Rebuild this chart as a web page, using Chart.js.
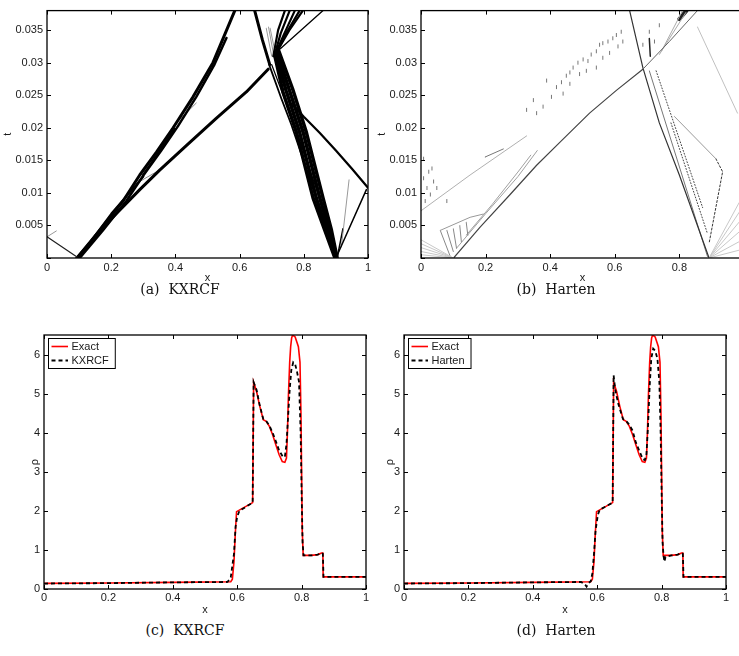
<!DOCTYPE html>
<html>
<head>
<meta charset="utf-8">
<script src="https://cdn.jsdelivr.net/npm/chart.js@4.4.1/dist/chart.umd.min.js"></script>
<style>
html, body { margin: 0; padding: 0; background: #fff; overflow: hidden; width: 739px; height: 656px; }
canvas { position: absolute; }
.cap { position: absolute; font-family: "DejaVu Serif", serif; font-size: 14px; color: #111; white-space: pre; transform: translateX(-50%); }
</style>
</head>
<body>
<canvas id="pa" width="380" height="285" style="left:0;top:0"></canvas>
<canvas id="pb" width="380" height="285" style="left:370px;top:0"></canvas>
<canvas id="pc" width="380" height="300" style="left:0;top:320px"></canvas>
<canvas id="pd" width="380" height="300" style="left:370px;top:320px"></canvas>
<div class="cap" style="left:180px;top:281px">(a)  KXRCF</div>
<div class="cap" style="left:556px;top:281px">(b)  Harten</div>
<div class="cap" style="left:185px;top:622px">(c)  KXRCF</div>
<div class="cap" style="left:556px;top:622px">(d)  Harten</div>
<script>
// ---- density at t = 0.038 (bottom panels) ----
const exactX = [0, 0.2, 0.4, 0.58, 0.585, 0.59, 0.594, 0.598, 0.648, 0.651, 0.66, 0.67, 0.681, 0.69, 0.70, 0.71, 0.72, 0.73, 0.74, 0.748,
  0.753, 0.756, 0.759, 0.763, 0.766, 0.769, 0.772, 0.78, 0.786, 0.79, 0.795, 0.798, 0.80, 0.802, 0.805, 0.83, 0.85, 0.862, 0.866, 0.867, 1.0];
const exactRho = [0.145, 0.155, 0.17, 0.185, 0.25, 0.7, 1.4, 1.98, 2.21, 5.29, 5.06, 4.68, 4.33, 4.29, 4.16, 3.95, 3.69, 3.44, 3.26, 3.24,
  3.35, 4.0, 4.93, 5.8, 6.2, 6.42, 6.5, 6.45, 6.3, 6.2, 5.8, 4.5, 3.0, 1.5, 0.86, 0.86, 0.88, 0.92, 0.92, 0.31, 0.31];

const kxrcfX = [0, 0.2, 0.4, 0.57, 0.58, 0.59, 0.595, 0.60, 0.607, 0.648, 0.651, 0.66, 0.67, 0.681, 0.69, 0.70, 0.71, 0.72, 0.73, 0.742,
  0.748, 0.753, 0.758, 0.763, 0.768, 0.774, 0.78, 0.786, 0.792, 0.797, 0.80, 0.803, 0.806, 0.83, 0.85, 0.862, 0.866, 0.868, 1.0];
const kxrcfRho = [0.14, 0.15, 0.17, 0.18, 0.3, 0.9, 1.6, 1.85, 2.0, 2.21, 5.29, 5.1, 4.7, 4.35, 4.3, 4.18, 4.0, 3.78, 3.55, 3.38,
  3.38, 3.7, 4.4, 5.1, 5.6, 5.8, 5.75, 5.55, 5.3, 4.0, 2.5, 1.2, 0.86, 0.86, 0.88, 0.92, 0.9, 0.31, 0.31];

const hartenX = [0, 0.2, 0.4, 0.55, 0.562, 0.567, 0.573, 0.58, 0.585, 0.59, 0.595, 0.602, 0.608, 0.648, 0.651, 0.656, 0.665, 0.68, 0.69, 0.70,
  0.71, 0.72, 0.73, 0.742, 0.748, 0.753, 0.758, 0.763, 0.768, 0.774, 0.78, 0.787, 0.793, 0.797, 0.80, 0.803, 0.806, 0.809, 0.812, 0.83,
  0.85, 0.862, 0.866, 0.868, 1.0];
const hartenRho = [0.14, 0.15, 0.17, 0.18, 0.12, 0.06, 0.15, 0.2, 0.4, 0.9, 1.5, 1.9, 2.03, 2.21, 5.47, 5.1, 4.75, 4.35, 4.3, 4.2,
  4.05, 3.75, 3.55, 3.32, 3.3, 3.45, 4.2, 5.2, 5.9, 6.15, 6.1, 5.9, 5.3, 4.0, 2.5, 1.2, 0.85, 0.7, 0.82, 0.86,
  0.88, 0.92, 0.9, 0.31, 0.31];

// ---- troubled cells in the (x, t) plane, KXRCF (panel a) ----
const kxL1 = [[0.0935, 0], [0.164, 0.00425], [0.237, 0.00875], [0.289, 0.01275], [0.341, 0.01625], [0.393, 0.02], [0.455, 0.02475], [0.517, 0.03], [0.585, 0.038]];
const kxL2 = [[0.102, 0], [0.174, 0.00425], [0.247, 0.00875], [0.301, 0.01275], [0.356, 0.0165], [0.408, 0.02025], [0.465, 0.02475], [0.522, 0.02975], [0.559, 0.0338]];
const kxL4 = [[0.097, 0], [0.2, 0.0068], [0.3, 0.0125]];
const kxB1 = [[0.299, 0.01275], [0.398, 0.01985]];
const kxG1 = [[0.413, 0.02125], [0.465, 0.0238]];
const kxG2 = [[0.28, 0.0115], [0.35, 0.0135]];
const kxL3 = [[0.0935, 0], [0.195, 0.00575], [0.289, 0.0105], [0.351, 0.0135], [0.434, 0.01725], [0.528, 0.0215], [0.621, 0.0255], [0.689, 0.029]];
const kxWall = [[0, 0.00325], [0.0935, 0.00015]];
const kxWallG = [[0, 0.00325], [0.029, 0.00415]];
const kxIn = [[0.647, 0.038], [0.671, 0.0335], [0.694, 0.0297]];
const kxThin1 = [[0.692, 0.0297], [0.73, 0.0245], [0.761, 0.0205], [0.83, 0.0105], [0.898, 0.0003]];
const kxThin2 = [[0.70, 0.0297], [0.77, 0.0205], [0.84, 0.0105], [0.9, 0.0003]];
const kxBand = [
  [[0.71, 0.031], [0.735, 0.0255], [0.777, 0.0193], [0.829, 0.0092], [0.865, 0.0043], [0.897, 0]],
  [[0.713, 0.0313], [0.745, 0.0257], [0.787, 0.0193], [0.839, 0.0092], [0.872, 0.0043], [0.899, 0]],
  [[0.717, 0.0315], [0.755, 0.0258], [0.798, 0.0193], [0.850, 0.0092], [0.879, 0.0043], [0.901, 0]],
  [[0.722, 0.0318], [0.765, 0.026], [0.808, 0.0193], [0.860, 0.0092], [0.886, 0.0043], [0.904, 0]]
];
const kxFan = [
  [[0.705, 0.031], [0.72, 0.035], [0.741, 0.038]],
  [[0.708, 0.031], [0.728, 0.0345], [0.756, 0.038]],
  [[0.71, 0.0312], [0.735, 0.034], [0.772, 0.038]],
  [[0.712, 0.0313], [0.745, 0.0345], [0.787, 0.038]],
  [[0.714, 0.0315], [0.755, 0.035], [0.797, 0.038]]
];
const kxFanThin = [[0.712, 0.0315], [0.86, 0.038]];
const kxDiamond = [
  [[0.683, 0.0353], [0.70, 0.031]],
  [[0.69, 0.0355], [0.705, 0.0315]],
  [[0.695, 0.0353], [0.709, 0.032]]
];
const kxRefl = [[1.0, 0.0108], [0.95, 0.0137], [0.90, 0.0165], [0.85, 0.0192], [0.80, 0.0217], [0.766, 0.0235]];
const kxRightUp = [[0.903, 0.0003], [0.995, 0.0105]];
const kxSpike = [[0.917, 0.0017], [0.941, 0.012]];
const kxSpike2 = [[0.905, 0.0003], [0.922, 0.0045]];

// ---- troubled cells, Harten (panel b) ----
const hShock = [[0.101, 0], [0.183, 0.00475], [0.276, 0.00975], [0.358, 0.01425], [0.44, 0.01825], [0.522, 0.02225], [0.605, 0.02575], [0.687, 0.029]];
const hShockUp = [[0.687, 0.029], [0.769, 0.03325], [0.856, 0.038]];
const hLeftMove = [[0.646, 0.038], [0.687, 0.02925], [0.738, 0.02075], [0.80, 0.01275], [0.892, 0]];
const hRight2 = [[0.707, 0.02875], [0.887, 0.00025]];
const hDot1 = [[0.728, 0.02875], [0.872, 0.00775]];
const hDot2 = [[0.774, 0.02075], [0.887, 0.00375]];
const hRefl = [[0.7845, 0.02175], [0.913, 0.01525]];
const hDash = [[0.913, 0.01525], [0.934, 0.01325], [0.892, 0.00225]];
const hReflUp = [[0.856, 0.0355], [0.98, 0.02225]];
const hFanRightEnds = [0.0085, 0.007, 0.0055, 0.004, 0.0025, 0.0012];
const hFanLeftStarts = [0.0028, 0.0022, 0.0016, 0.001, 0.0005];
const hDiag = [[0, 0.00725], [0.152, 0.01275], [0.327, 0.01875]];
const hDiagDash = [[0.198, 0.0155], [0.255, 0.01675]];
const hBlockTop = [[0.06, 0.00425], [0.152, 0.00625], [0.193, 0.00675]];
const hBlockLines = [
  [[0.0596, 0.00425], [0.0905, 0.00025]],
  [[0.08, 0.00425], [0.1, 0.001]],
  [[0.1, 0.0045], [0.11, 0.0015]],
  [[0.12, 0.005], [0.125, 0.0025]],
  [[0.14, 0.0055], [0.145, 0.0035]]
];
const hBundle = [
  [[0.11, 0.0015], [0.2, 0.0068], [0.3, 0.0125], [0.36, 0.0165]],
  [[0.14, 0.0035], [0.22, 0.0082], [0.30, 0.0132], [0.34, 0.0158]]
];
const hBlob = [[0.80, 0.0367], [0.822, 0.038]];
const hBlobLines = [
  [[0.738, 0.03125], [0.82, 0.0377]],
  [[0.745, 0.0318], [0.81, 0.038]]
];
const hVert = [[0.707, 0.0337], [0.71, 0.031]];
const hDotsX = [0.4195, 0.435, 0.450, 0.461, 0.471, 0.486, 0.502, 0.517, 0.527, 0.543, 0.553, 0.563, 0.579, 0.594, 0.605, 0.620, 0.625,
  0.563, 0.584, 0.610, 0.543, 0.512, 0.491, 0.461, 0.440, 0.404, 0.358, 0.378, 0.327, 0.348, 0.389, 0.687, 0.707, 0.738, 0.723,
  0.008, 0.0185, 0.029, 0.013, 0.024, 0.039, 0.049, 0.008, 0.034, 0.08];
const hDotsT = [0.02625, 0.027, 0.028, 0.0285, 0.02925, 0.03, 0.0305, 0.03025, 0.03125, 0.03175, 0.03275, 0.033, 0.03325, 0.03375, 0.03425, 0.03475, 0.03325,
  0.03075, 0.0315, 0.0325, 0.02925, 0.02875, 0.02825, 0.02675, 0.02525, 0.02475, 0.02225, 0.02325, 0.02275, 0.02425, 0.02725, 0.03275, 0.03475, 0.03575, 0.03325,
  0.01225, 0.01075, 0.00975, 0.00875, 0.01325, 0.01175, 0.01075, 0.01525, 0.01375, 0.00875];

const FONT = { family: '"Liberation Sans", Arial, Helvetica, sans-serif', size: 11 };
const INK = '#1a1a1a';

function seg(pts, color, width, dash) {
  return {
    data: pts.map(p => ({ x: p[0], y: p[1] })),
    showLine: true, borderColor: color, borderWidth: width, borderDash: dash || [],
    borderCapStyle: 'round', borderJoinStyle: 'round',
    pointRadius: 0, fill: false, tension: 0
  };
}

function curve(label, xs, ys, color, width, dash, order) {
  return {
    label: label,
    data: xs.map((x, i) => ({ x: x, y: ys[i] })),
    showLine: true, borderColor: color, backgroundColor: color, borderWidth: width, borderDash: dash,
    pointRadius: 0, fill: false, tension: 0, order: order
  };
}

// matlab style box with inward ticks on all four sides
const frame = {
  id: 'frame',
  afterDatasetsDraw(chart) {
    const { ctx, chartArea: a, scales } = chart;
    ctx.save();
    ctx.strokeStyle = '#000';
    ctx.lineWidth = 1;
    ctx.beginPath();
    scales.x.ticks.forEach(t => {
      const p = Math.round(scales.x.getPixelForValue(t.value)) + 0.5;
      ctx.moveTo(p, a.bottom); ctx.lineTo(p, a.bottom - 4);
      ctx.moveTo(p, a.top); ctx.lineTo(p, a.top + 4);
    });
    scales.y.ticks.forEach(t => {
      const p = Math.round(scales.y.getPixelForValue(t.value)) + 0.5;
      ctx.moveTo(a.left, p); ctx.lineTo(a.left + 4, p);
      ctx.moveTo(a.right, p); ctx.lineTo(a.right - 4, p);
    });
    ctx.stroke();
    ctx.lineWidth = 1.3;
    ctx.strokeRect(a.left, a.top, a.right - a.left, a.bottom - a.top);
    ctx.restore();
  }
};

// legend box in the upper left corner of the axes
const mlLegend = {
  id: 'mlLegend',
  afterDraw(chart) {
    const { ctx, chartArea: a } = chart;
    const sets = chart.data.datasets;
    ctx.save();
    ctx.font = FONT.size + 'px ' + FONT.family;
    const tw = Math.max(...sets.map(d => ctx.measureText(d.label).width));
    const x0 = a.left + 4, y0 = a.top + 3, w = 23.5 + tw + 6, h = 30;
    ctx.fillStyle = '#fff';
    ctx.fillRect(x0, y0, w, h);
    ctx.strokeStyle = '#000';
    ctx.lineWidth = 1;
    ctx.strokeRect(x0 + 0.5, y0 + 0.5, w, h);
    sets.forEach((d, i) => {
      const yy = y0 + 8.5 + i * 14;
      ctx.strokeStyle = d.borderColor;
      ctx.lineWidth = d.borderWidth;
      ctx.setLineDash(d.borderDash);
      ctx.beginPath();
      ctx.moveTo(x0 + 3.5, yy);
      ctx.lineTo(x0 + 20, yy);
      ctx.stroke();
      ctx.setLineDash([]);
      ctx.fillStyle = INK;
      ctx.textBaseline = 'middle';
      ctx.fillText(d.label, x0 + 23.5, yy + 0.5);
    });
    ctx.restore();
  }
};

function panel(id, datasets, g) {
  return new Chart(document.getElementById(id), {
    type: 'scatter',
    data: { datasets: datasets },
    options: {
      responsive: false,
      animation: false,
      events: [],
      layout: { padding: g.pad },
      plugins: { legend: { display: false }, tooltip: { enabled: false } },
      scales: {
        x: {
          type: 'linear', min: 0, max: 1,
          afterFit: s => { s.height = g.xh; },
          ticks: { stepSize: 0.2, padding: g.xtp, color: INK, font: FONT, maxRotation: 0,
                   callback: v => String(+v.toFixed(1)) },
          grid: { display: false, drawTicks: false },
          border: { display: false },
          title: { display: true, text: 'x', color: INK, font: FONT, padding: 0 }
        },
        y: {
          type: 'linear', min: g.ymin, max: g.ymax,
          afterFit: s => { s.width = g.yw; },
          ticks: { stepSize: g.ystep, includeBounds: false, padding: g.ytp, color: INK, font: FONT,
                   callback: g.yfmt },
          grid: { display: false, drawTicks: false },
          border: { display: false },
          title: { display: true, text: g.ytitle, color: INK, font: FONT, padding: { top: g.ytitlePad, bottom: 0 } }
        }
      }
    },
    plugins: g.legend ? [frame, mlLegend] : [frame]
  });
}

// ---- panel (a) ----
const setsA = [
  seg(kxWall, '#222', 1.2), seg(kxWallG, '#999', 1),
  seg(kxL1, '#000', 3), seg(kxL2, '#000', 2.5), seg(kxL4, '#000', 2), seg(kxL3, '#000', 3),
  seg(kxB1, '#000', 2), seg(kxG1, '#888', 1), seg(kxG2, '#888', 1),
  seg(kxIn, '#000', 3), seg(kxThin1, '#000', 1.8), seg(kxThin2, '#000', 1.3),
  ...kxBand.map(p => seg(p, '#000', 3.5)),
  ...kxFan.map(p => seg(p, '#000', 2.2)),
  seg(kxFanThin, '#000', 1.3),
  ...kxDiamond.map(p => seg(p, '#999', 1)),
  seg(kxRefl, '#000', 2.2), seg(kxRightUp, '#000', 1.5), seg(kxSpike, '#999', 1), seg(kxSpike2, '#000', 1.5)
];
const tFmt = v => (v === 0 ? '' : String(+v.toFixed(3)));
panel('pa', setsA, { pad: { left: 0, top: 5, right: 12, bottom: 0 }, xh: 27, yw: 47, xtp: 3, ytp: 4,
  ymin: 0, ymax: 0.038, ystep: 0.005, yfmt: tFmt, ytitle: 't', ytitlePad: 1.4 });

// ---- panel (b) ----
const hDots = {
  data: hDotsX.map((x, i) => ({ x: x, y: hDotsT[i] })),
  showLine: false, pointStyle: 'line', rotation: 90, pointRadius: 2, borderColor: '#777', borderWidth: 1
};
const setsB = [
  ...hFanLeftStarts.map(t => seg([[0, t], [0.1, 0]], '#c8c8c8', 1)),
  ...hFanRightEnds.map(t => seg([[0.892, 0], [0.985, t]], '#c8c8c8', 1)),
  seg(hDiag, '#b0b0b0', 1), seg(hDiagDash, '#777', 1),
  seg(hBlockTop, '#999', 1), ...hBlockLines.map(p => seg(p, '#888', 1)),
  ...hBundle.map(p => seg(p, '#a0a0a0', 1)),
  seg(hShock, '#444', 1.2), seg(hShockUp, '#666', 1),
  seg(hLeftMove, '#333', 1.2), seg(hRight2, '#777', 1),
  seg(hDot1, '#444', 1, [1, 2]), seg(hDot2, '#444', 1, [1, 2]),
  seg(hRefl, '#999', 1), seg(hDash, '#333', 1, [2, 2]), seg(hReflUp, '#c0c0c0', 1),
  ...hBlobLines.map(p => seg(p, '#aaa', 1)), seg(hBlob, '#222', 4), seg(hVert, '#222', 1.5),
  hDots
];
panel('pb', setsB, { pad: { left: 0, top: 5, right: 5, bottom: 0 }, xh: 27, yw: 51, xtp: 3, ytp: 4,
  ymin: 0, ymax: 0.038, ystep: 0.005, yfmt: tFmt, ytitle: 't', ytitlePad: 5 });

// ---- panels (c) and (d) ----
const rhoFmt = v => String(v);
panel('pc', [
  curve('Exact', exactX, exactRho, '#ff0000', 1.6, [], 1),
  curve('KXRCF', kxrcfX, kxrcfRho, '#000', 1.8, [4, 3], 0)
], { pad: { left: 0, top: 15, right: 14, bottom: 3 }, xh: 28, yw: 44, xtp: 2, ytp: 4,
  ymin: 0, ymax: 6.5, ystep: 1, yfmt: rhoFmt, ytitle: 'ρ', ytitlePad: 28, legend: true });

panel('pd', [
  curve('Exact', exactX, exactRho, '#ff0000', 1.6, [], 1),
  curve('Harten', hartenX, hartenRho, '#000', 1.8, [4, 3], 0)
], { pad: { left: 0, top: 15, right: 24, bottom: 3 }, xh: 28, yw: 34, xtp: 2, ytp: 4,
  ymin: 0, ymax: 6.5, ystep: 1, yfmt: rhoFmt, ytitle: 'ρ', ytitlePad: 13.4, legend: true });
</script>
</body>
</html>
